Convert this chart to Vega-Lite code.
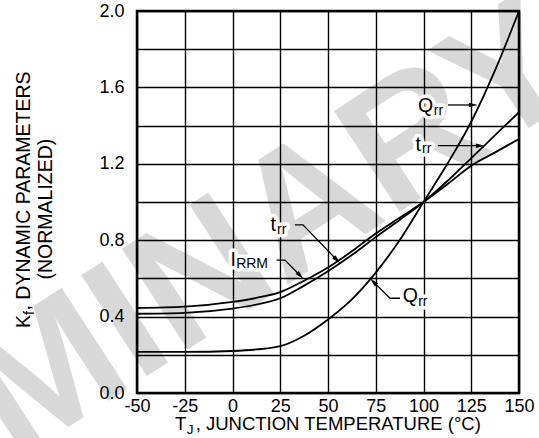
{
  "$schema": "https://vega.github.io/schema/vega-lite/v6.json",
  "width": 382,
  "height": 382,
  "autosize": {"type": "none"},
  "padding": {"left": 137, "top": 11, "right": 20, "bottom": 45},
  "config": {
    "view": {"stroke": "#000", "strokeWidth": 2.5},
    "text": {"font": "Liberation Sans"}
  },
  "datasets": {
    "curves": [
      {"series": "Qrr", "t": -50, "k": 0.215},
      {"series": "Qrr", "t": -25, "k": 0.215},
      {"series": "Qrr", "t": 0, "k": 0.22},
      {"series": "Qrr", "t": 12.5, "k": 0.228},
      {"series": "Qrr", "t": 25, "k": 0.245},
      {"series": "Qrr", "t": 37.5, "k": 0.3},
      {"series": "Qrr", "t": 50, "k": 0.385},
      {"series": "Qrr", "t": 62.5, "k": 0.49},
      {"series": "Qrr", "t": 75, "k": 0.63},
      {"series": "Qrr", "t": 87.5, "k": 0.8},
      {"series": "Qrr", "t": 100, "k": 1.0},
      {"series": "Qrr", "t": 112.5, "k": 1.2},
      {"series": "Qrr", "t": 125, "k": 1.42},
      {"series": "Qrr", "t": 137.5, "k": 1.69},
      {"series": "Qrr", "t": 150, "k": 2.0},
      {"series": "IRRM", "t": -50, "k": 0.445},
      {"series": "IRRM", "t": -25, "k": 0.452},
      {"series": "IRRM", "t": 0, "k": 0.477},
      {"series": "IRRM", "t": 12.5, "k": 0.498},
      {"series": "IRRM", "t": 25, "k": 0.528},
      {"series": "IRRM", "t": 37.5, "k": 0.588},
      {"series": "IRRM", "t": 50, "k": 0.657},
      {"series": "IRRM", "t": 62.5, "k": 0.742},
      {"series": "IRRM", "t": 75, "k": 0.835},
      {"series": "IRRM", "t": 87.5, "k": 0.917},
      {"series": "IRRM", "t": 100, "k": 1.0},
      {"series": "IRRM", "t": 112.5, "k": 1.093},
      {"series": "IRRM", "t": 125, "k": 1.19},
      {"series": "IRRM", "t": 137.5, "k": 1.26},
      {"series": "IRRM", "t": 150, "k": 1.33},
      {"series": "trr", "t": -50, "k": 0.415},
      {"series": "trr", "t": -25, "k": 0.42},
      {"series": "trr", "t": 0, "k": 0.442},
      {"series": "trr", "t": 12.5, "k": 0.463},
      {"series": "trr", "t": 25, "k": 0.496},
      {"series": "trr", "t": 37.5, "k": 0.562},
      {"series": "trr", "t": 50, "k": 0.637},
      {"series": "trr", "t": 62.5, "k": 0.722},
      {"series": "trr", "t": 75, "k": 0.816},
      {"series": "trr", "t": 87.5, "k": 0.906},
      {"series": "trr", "t": 100, "k": 1.0},
      {"series": "trr", "t": 112.5, "k": 1.11},
      {"series": "trr", "t": 125, "k": 1.23},
      {"series": "trr", "t": 137.5, "k": 1.35},
      {"series": "trr", "t": 150, "k": 1.47}
    ],
    "mainLabels": [
      {"text": "Q", "t": 97.1, "k": 1.47},
      {"text": "t", "t": 95.8, "k": 1.268},
      {"text": "t", "t": 19.9, "k": 0.848},
      {"text": "I", "t": -1.0, "k": 0.665},
      {"text": "Q", "t": 89.1, "k": 0.474}
    ],
    "subLabels": [
      {"text": "rr", "t": 105.4, "k": 1.453},
      {"text": "rr", "t": 99.2, "k": 1.254},
      {"text": "rr", "t": 23.3, "k": 0.833},
      {"text": "RRM", "t": 1.9, "k": 0.652},
      {"text": "rr", "t": 97.2, "k": 0.456}
    ],
    "leaders": [
      {"id": "q1", "i": 0, "t": 112.8, "k": 1.508},
      {"id": "q1", "i": 1, "t": 126.1, "k": 1.508},
      {"id": "t1", "i": 0, "t": 107.6, "k": 1.295},
      {"id": "t1", "i": 1, "t": 129.8, "k": 1.295},
      {"id": "t2", "i": 0, "t": 32.7, "k": 0.88},
      {"id": "t2", "i": 1, "t": 36.9, "k": 0.88},
      {"id": "t2", "i": 2, "t": 54.7, "k": 0.696},
      {"id": "i1", "i": 0, "t": 23.1, "k": 0.696},
      {"id": "i1", "i": 1, "t": 27.5, "k": 0.696},
      {"id": "i1", "i": 2, "t": 35.5, "k": 0.614},
      {"id": "q2", "i": 0, "t": 87.7, "k": 0.496},
      {"id": "q2", "i": 1, "t": 82.5, "k": 0.496},
      {"id": "q2", "i": 2, "t": 73.7, "k": 0.583}
    ]
  },
  "encoding": {
    "x": {
      "field": "t", "type": "quantitative",
      "scale": {"domain": [-50, 150], "nice": false, "zero": false},
      "axis": {
        "values": [-50, -25, 0, 25, 50, 75, 100, 125, 150],
        "labelExpr": "'' + datum.value",
        "grid": true, "gridColor": "#000", "gridWidth": 1.4, "gridOpacity": 1,
        "ticks": false, "domain": false, "title": null,
        "labelFont": "Liberation Sans", "labelFontSize": 18, "labelColor": "#000",
        "labelPadding": 4, "labelFlush": false, "labelOverlap": false
      }
    },
    "y": {
      "field": "k", "type": "quantitative",
      "scale": {"domain": [0, 2], "nice": false, "zero": false},
      "axis": {
        "values": [0, 0.2, 0.4, 0.6, 0.8, 1.0, 1.2, 1.4, 1.6, 1.8, 2.0],
        "labelExpr": "(round(datum.value * 10) % 4 == 0) ? format(datum.value, '.1f') : ''",
        "grid": true, "gridColor": "#000", "gridWidth": 1.4, "gridOpacity": 1,
        "ticks": false, "domain": false, "title": null,
        "labelFont": "Liberation Sans", "labelFontSize": 18, "labelColor": "#000",
        "labelPadding": 13, "labelFlush": false, "labelOverlap": false
      }
    }
  },
  "layer": [
    {
      "data": {"values": [{"text": "PRELIMINARY", "t": -77, "k": -0.12}]},
      "mark": {"type": "text", "font": "Liberation Sans", "fontWeight": "bold", "fontSize": 175, "angle": -33, "align": "center", "baseline": "alphabetic", "color": "#000", "opacity": 0.15},
      "encoding": {"text": {"field": "text"}}
    },
    {
      "data": {"name": "curves"},
      "mark": {"type": "line", "color": "#000", "strokeWidth": 1.8, "interpolate": "monotone"},
      "encoding": {"detail": {"field": "series"}}
    },
    {
      "data": {"name": "mainLabels"},
      "mark": {"type": "text", "fontSize": 19.5, "align": "left", "baseline": "alphabetic", "stroke": "#fff", "strokeWidth": 7, "strokeJoin": "round", "color": "#fff"},
      "encoding": {"text": {"field": "text"}}
    },
    {
      "data": {"name": "subLabels"},
      "mark": {"type": "text", "fontSize": 14, "align": "left", "baseline": "alphabetic", "stroke": "#fff", "strokeWidth": 7, "strokeJoin": "round", "color": "#fff"},
      "encoding": {"text": {"field": "text"}}
    },
    {
      "data": {"name": "leaders"},
      "mark": {"type": "line", "color": "#000", "strokeWidth": 1.3},
      "encoding": {"detail": {"field": "id"}, "order": {"field": "i"}}
    },
    {
      "data": {"values": [{"t": 126.1, "k": 1.508}, {"t": 129.8, "k": 1.295}]},
      "mark": {"type": "point", "shape": "M-1,-0.5L1,0L-1,0.5Z", "size": 81, "filled": true, "color": "#000", "opacity": 1, "angle": 0}
    },
    {
      "data": {"values": [{"t": 54.7, "k": 0.696}, {"t": 35.5, "k": 0.614}]},
      "mark": {"type": "point", "shape": "M-1,-0.5L1,0L-1,0.5Z", "size": 81, "filled": true, "color": "#000", "opacity": 1, "angle": 46}
    },
    {
      "data": {"values": [{"t": 73.7, "k": 0.583}]},
      "mark": {"type": "point", "shape": "M-1,-0.5L1,0L-1,0.5Z", "size": 81, "filled": true, "color": "#000", "opacity": 1, "angle": 225}
    },
    {
      "data": {"name": "mainLabels"},
      "mark": {"type": "text", "fontSize": 19.5, "align": "left", "baseline": "alphabetic", "color": "#000"},
      "encoding": {"text": {"field": "text"}}
    },
    {
      "data": {"name": "subLabels"},
      "mark": {"type": "text", "fontSize": 14, "align": "left", "baseline": "alphabetic", "color": "#000"},
      "encoding": {"text": {"field": "text"}}
    },
    {
      "data": {"values": [
        {"text": "T", "t": -30.1, "k": -0.194},
        {"text": ", JUNCTION TEMPERATURE (°C)", "t": -19.3, "k": -0.194}
      ]},
      "mark": {"type": "text", "fontSize": 18.5, "align": "left", "baseline": "alphabetic", "color": "#000"},
      "encoding": {"text": {"field": "text"}}
    },
    {
      "data": {"values": [{"text": "J", "t": -23.9, "k": -0.215}]},
      "mark": {"type": "text", "fontSize": 13.5, "align": "left", "baseline": "alphabetic", "color": "#000"},
      "encoding": {"text": {"field": "text"}}
    },
    {
      "data": {"values": [
        {"text": "K", "t": -106.0, "k": 0.34},
        {"text": ", DYNAMIC PARAMETERS", "t": -106.0, "k": 0.432}
      ]},
      "mark": {"type": "text", "fontSize": 19.5, "align": "left", "baseline": "alphabetic", "angle": 270, "color": "#000"},
      "encoding": {"text": {"field": "text"}}
    },
    {
      "data": {"values": [{"text": "f", "t": -103.9, "k": 0.408}]},
      "mark": {"type": "text", "fontSize": 14, "align": "left", "baseline": "alphabetic", "angle": 270, "color": "#000"},
      "encoding": {"text": {"field": "text"}}
    },
    {
      "data": {"values": [{"text": "(NORMALIZED)", "t": -94.5, "k": 0.963}]},
      "mark": {"type": "text", "fontSize": 19.5, "align": "center", "baseline": "alphabetic", "angle": 270, "color": "#000"},
      "encoding": {"text": {"field": "text"}}
    }
  ]
}
